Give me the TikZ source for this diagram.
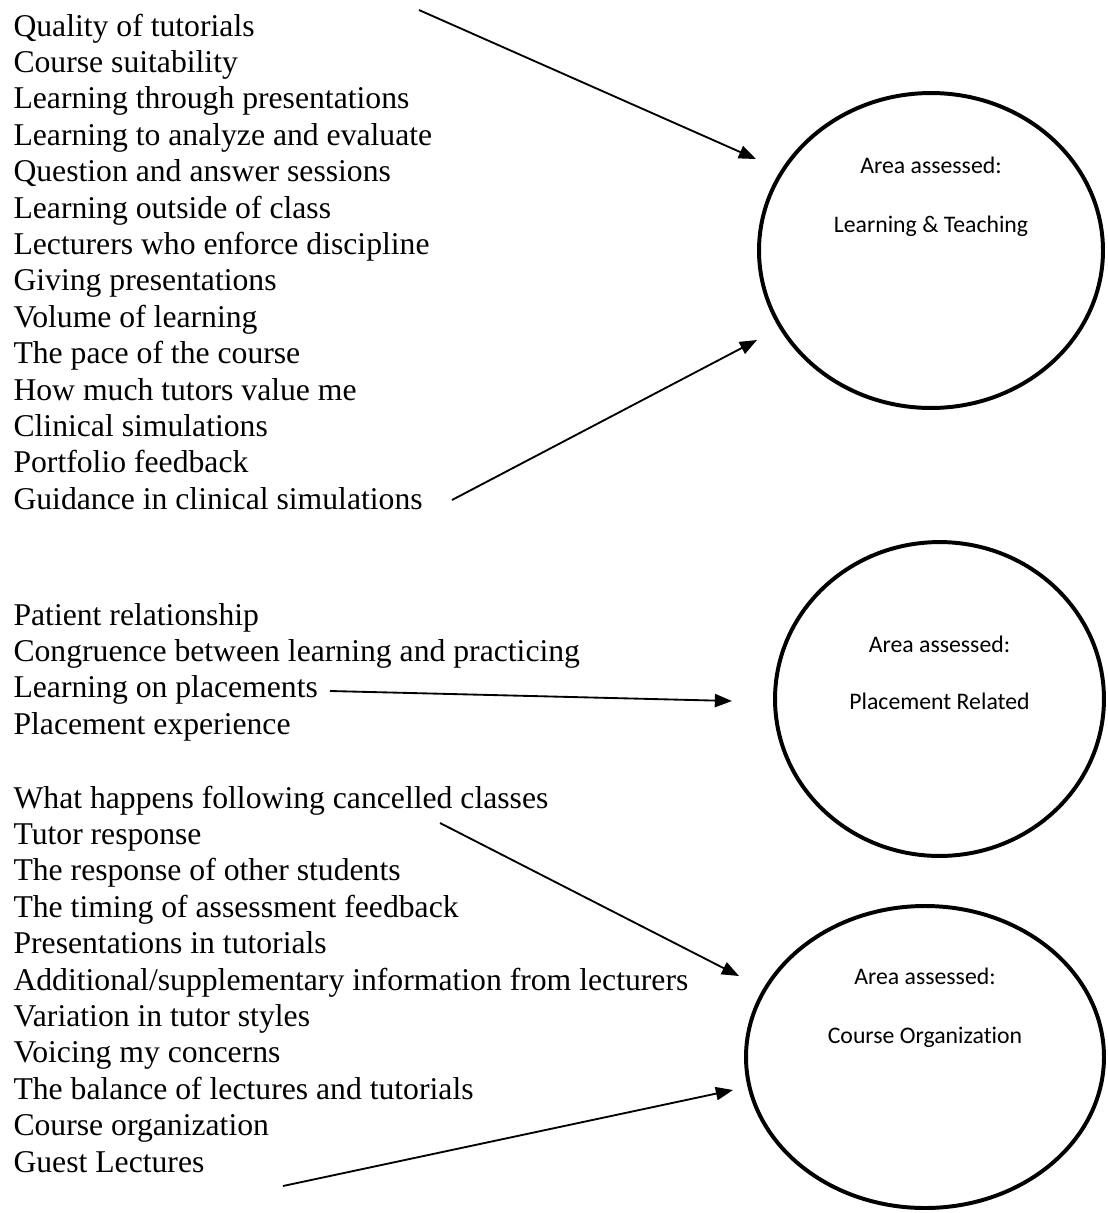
\documentclass[tikz,border=0pt]{standalone}
\usepackage{fontspec}
\setmainfont{Liberation Serif}
\newfontfamily\calfont[Ligatures=NoCommon]{Carlito}
\usetikzlibrary{shapes.geometric,arrows.meta}

\tikzset{
  item/.style={anchor=base west, inner sep=0pt, font=\fontsize{12}{14}\selectfont},
  area/.style={ellipse, draw, line width=1.5pt, inner sep=0pt},
  areatxt/.style={anchor=base, inner sep=0pt, font=\calfont\fontsize{9}{11}\selectfont},
  fleche/.style={-{Triangle[length=6.5pt,width=5pt]}, line width=0.7pt}
}

\begin{document}
\begin{tikzpicture}[x=0.3788pt, y=-0.3788pt]

    \useasboundingbox (0,0) rectangle (1108,1213);

    % Apprentissage et enseignement
    \node[item] (LT1)  at (13,36)    {Quality of tutorials};
    \node[item] (LT2)  at (13,72.4)  {Course suitability};
    \node[item] (LT3)  at (13,108.8) {Learning through presentations};
    \node[item] (LT4)  at (13,145.2) {Learning to analyze and evaluate};
    \node[item] (LT5)  at (13,181.6) {Question and answer sessions};
    \node[item] (LT6)  at (13,218)   {Learning outside of class};
    \node[item] (LT7)  at (13,254.4) {Lecturers who enforce discipline};
    \node[item] (LT8)  at (13,290.8) {Giving presentations};
    \node[item] (LT9)  at (13,327.2) {Volume of learning};
    \node[item] (LT10) at (13,363.6) {The pace of the course};
    \node[item] (LT11) at (13,400)   {How much tutors value me};
    \node[item] (LT12) at (13,436.4) {Clinical simulations};
    \node[item] (LT13) at (13,472.8) {Portfolio feedback};
    \node[item] (LT14) at (13,509.2) {Guidance in clinical simulations};

    % Stages
    \node[item] (PR1) at (13,625)   {Patient relationship};
    \node[item] (PR2) at (13,661.4) {Congruence between learning and practicing};
    \node[item] (PR3) at (13,697.8) {Learning on placements};
    \node[item] (PR4) at (13,734.2) {Placement experience};

    % Organisation du cours
    \node[item] (CO1)  at (13,808)    {What happens following cancelled classes};
    \node[item] (CO2)  at (13,844.4)  {Tutor response};
    \node[item] (CO3)  at (13,880.8)  {The response of other students};
    \node[item] (CO4)  at (13,917.2)  {The timing of assessment feedback};
    \node[item] (CO5)  at (13,953.6)  {Presentations in tutorials};
    \node[item] (CO6)  at (13,990)    {Additional/supplementary information from lecturers};
    \node[item] (CO7)  at (13,1026.4) {Variation in tutor styles};
    \node[item] (CO8)  at (13,1062.8) {Voicing my concerns};
    \node[item] (CO9)  at (13,1099.2) {The balance of lectures and tutorials};
    \node[item] (CO10) at (13,1135.6) {Course organization};
    \node[item] (CO11) at (13,1172)   {Guest Lectures};

    % Ellipses
    \node[area, minimum width=130.3pt, minimum height=119.3pt] (E1) at (931,250.5) {};
    \node[area, minimum width=124.6pt, minimum height=118.9pt] (E2) at (939.5,699) {};
    \node[area, minimum width=135.6pt, minimum height=114.4pt] (E3) at (925,1057) {};

    \node[areatxt] (E1a) at (931,173)   {Area assessed:};
    \node[areatxt] (E1b) at (931,232)   {Learning \& Teaching};
    \node[areatxt] (E2a) at (939.5,652) {Area assessed:};
    \node[areatxt] (E2b) at (939.5,709) {Placement Related};
    \node[areatxt] (E3a) at (925,984)   {Area assessed:};
    \node[areatxt] (E3b) at (925,1043)  {Course Organization};

    % Extrémités des flèches
    \coordinate (A1s) at (419,10);
    \coordinate (A1e) at (756,159);
    \coordinate (A2s) at (452,500);
    \coordinate (A2e) at (757,340);
    \coordinate (A3s) at (330,691);
    \coordinate (A3e) at (732,701);
    \coordinate (A4s) at (440,823);
    \coordinate (A4e) at (739,976);
    \coordinate (A5s) at (283,1186);
    \coordinate (A5e) at (733,1090);

    % Flèches
    \draw[fleche] (A1s) -- (A1e);
    \draw[fleche] (A2s) -- (A2e);
    \draw[fleche] (A3s) -- (A3e);
    \draw[fleche] (A4s) -- (A4e);
    \draw[fleche] (A5s) -- (A5e);

\end{tikzpicture}
\end{document}
